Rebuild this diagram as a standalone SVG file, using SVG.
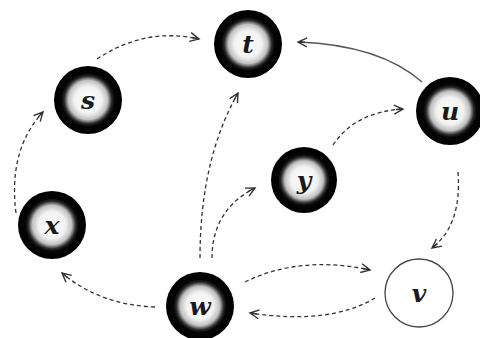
<svg xmlns="http://www.w3.org/2000/svg" width="480" height="338" viewBox="0 0 480 338">
<defs>
<radialGradient id="fuzz" cx="50%" cy="50%" r="50%">
<stop offset="0" stop-color="#ffffff"/>
<stop offset="0.4" stop-color="#f2f2f2"/>
<stop offset="0.58" stop-color="#c0c0c0"/>
<stop offset="0.7" stop-color="#2a2a2a"/>
<stop offset="0.78" stop-color="#050505"/>
<stop offset="1" stop-color="#000000"/>
</radialGradient>
<marker id="ah" markerWidth="14" markerHeight="12" refX="10" refY="6" orient="auto" markerUnits="userSpaceOnUse">
<path d="M1,1.5 L10,6 L1,10.5 M3,6 L10,6" fill="none" stroke="#333" stroke-width="1.4"/>
</marker>
</defs>
<style>
.edge{fill:none;stroke:#333;stroke-width:1.3;stroke-dasharray:4 3;marker-end:url(#ah)}
.solid{stroke-dasharray:none;stroke:#555}
.dark{fill:url(#fuzz)}
.lbl{font-family:"DejaVu Serif","Liberation Serif",serif;font-style:italic;font-weight:bold;font-size:25px;fill:#1a1a1a;text-anchor:middle}
</style>
<rect width="480" height="338" fill="#fff"/>
<g id="connectors">
<path class="edge" d="M97,59 Q145,27 199,39"/>
<path class="edge" d="M16,213 Q8,150 43,112"/>
<path class="edge" d="M200,258 Q200,160 238,93"/>
<path class="edge" d="M212,258 Q212,210 255,188"/>
<path class="edge" d="M333,145 Q355,112 403,109"/>
<path class="edge solid" d="M422,82 Q380,45 298,42"/>
<path class="edge" d="M458,172 Q462,225 432,248"/>
<path class="edge" d="M245,282 Q300,255 370,270"/>
<path class="edge" d="M375,298 Q330,325 250,313"/>
<path class="edge" d="M155,307 Q100,305 62,273"/>
</g>
<g id="node-s"><circle class="dark" cx="88" cy="100" r="34"/><text class="lbl" x="88" y="109">s</text></g>
<g id="node-t"><circle class="dark" cx="248" cy="44" r="34"/><text class="lbl" x="248" y="53">t</text></g>
<g id="node-u"><circle class="dark" cx="450" cy="111" r="34"/><text class="lbl" x="450" y="120">u</text></g>
<g id="node-y"><circle class="dark" cx="304" cy="180" r="33"/><text class="lbl" x="304" y="189">y</text></g>
<g id="node-x"><circle class="dark" cx="52" cy="225" r="34"/><text class="lbl" x="52" y="234">x</text></g>
<g id="node-w"><circle class="dark" cx="200" cy="306" r="34"/><text class="lbl" x="200" y="315">w</text></g>
<g id="node-v"><circle cx="419" cy="293" r="34" fill="#fff" stroke="#444" stroke-width="1.3"/><text class="lbl" x="419" y="302">v</text></g>
</svg>
